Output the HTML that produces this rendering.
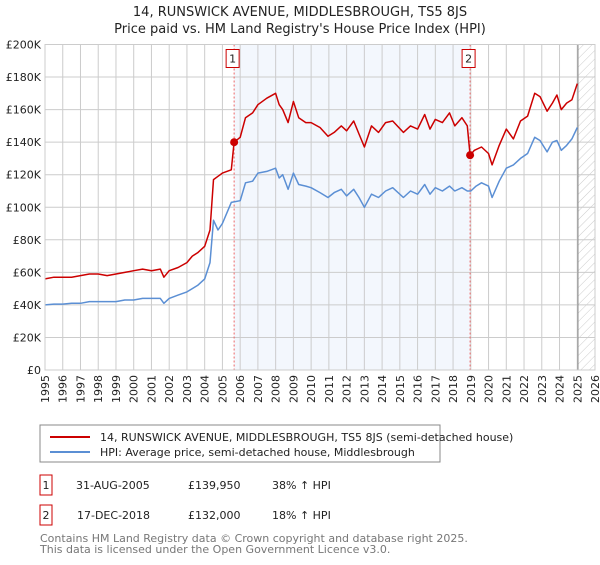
<!DOCTYPE html>
<html><head><meta charset="utf-8"><style>
body{margin:0;background:#fff;font-family:"Liberation Sans","DejaVu Sans",sans-serif;}
svg text{font-family:"DejaVu Sans","Liberation Sans",sans-serif;}
</style></head><body>
<svg id="c" width="600" height="560" xmlns="http://www.w3.org/2000/svg">
<defs><pattern id="hatch" width="6" height="6" patternUnits="userSpaceOnUse" patternTransform="rotate(45)"><line x1="0" y1="0" x2="0" y2="6" stroke="#ccc" stroke-width="1"/></pattern></defs>
<text x="300" y="16" text-anchor="middle" font-size="13" fill="#222">14, RUNSWICK AVENUE, MIDDLESBROUGH, TS5 8JS</text>
<text x="300" y="33" text-anchor="middle" font-size="13" fill="#222">Price paid vs. HM Land Registry's House Price Index (HPI)</text>
<g id="plot"></g>
<rect x="40" y="425" width="400" height="37" fill="#fff" stroke="#888"/>
<line x1="50" y1="437" x2="90" y2="437" stroke="#cc0000" stroke-width="2"/>
<text x="100" y="441" font-size="11" fill="#222">14, RUNSWICK AVENUE, MIDDLESBROUGH, TS5 8JS (semi-detached house)</text>
<line x1="50" y1="452" x2="90" y2="452" stroke="#5b8fd4" stroke-width="2"/>
<text x="100" y="456" font-size="11" fill="#222">HPI: Average price, semi-detached house, Middlesbrough</text>
<g>
<rect x="40" y="475" width="12" height="20" fill="#fff" stroke="#cc0000"/>
<text x="46" y="489" text-anchor="middle" font-size="11" fill="#222">1</text>
<text x="76" y="489" font-size="11" fill="#222">31-AUG-2005</text>
<text x="188" y="489" font-size="11" fill="#222">£139,950</text>
<text x="272" y="489" font-size="11" fill="#222">38% ↑ HPI</text></g>
<g>
<rect x="40" y="505" width="12" height="20" fill="#fff" stroke="#cc0000"/>
<text x="46" y="519" text-anchor="middle" font-size="11" fill="#222">2</text>
<text x="77" y="519" font-size="11" fill="#222">17-DEC-2018</text>
<text x="188" y="519" font-size="11" fill="#222">£132,000</text>
<text x="272" y="519" font-size="11" fill="#222">18% ↑ HPI</text></g>
<text x="40" y="542" font-size="11" fill="#777">Contains HM Land Registry data © Crown copyright and database right 2025.</text>
<text x="40" y="553" font-size="11" fill="#777">This data is licensed under the Open Government Licence v3.0.</text>
</svg>
<script>
const yearTicks=[1995,1996,1997,1998,1999,2000,2001,2002,2003,2004,2005,2006,2007,2008,2009,2010,2011,2012,2013,2014,2015,2016,2017,2018,2019,2020,2021,2022,2023,2024,2025,2026];
const priceTicks=[0,20000,40000,60000,80000,100000,120000,140000,160000,180000,200000];
const priceLabels=["£0","£20K","£40K","£60K","£80K","£100K","£120K","£140K","£160K","£180K","£200K"];
const redYears=[1995,1995.5,1996,1996.5,1997,1997.5,1998,1998.5,1999,1999.5,2000,2000.5,2001,2001.5,2001.7,2002,2002.5,2003,2003.3,2003.6,2004,2004.3,2004.5,2004.75,2005,2005.5,2005.66,2006,2006.3,2006.7,2007,2007.5,2008,2008.2,2008.4,2008.7,2009,2009.3,2009.7,2010,2010.5,2010.95,2011.3,2011.7,2012,2012.4,2012.7,2013,2013.4,2013.8,2014.2,2014.6,2015.2,2015.6,2016,2016.4,2016.7,2017,2017.4,2017.8,2018.1,2018.5,2018.8,2018.96,2019.2,2019.6,2020,2020.2,2020.6,2021,2021.4,2021.8,2022.2,2022.6,2022.9,2023.3,2023.6,2023.85,2024.1,2024.4,2024.7,2025];
const redValues=[56,57,57,57,58,59,59,58,59,60,61,62,61,62,57,61,63,66,70,72,76,86,117,119,121,123,139950/1000,143,155,158,163,167,170,163,160,152,165,155,152,152,149,143.6,146,150,147,153,145,137,150,146,152,153,146,150,148,157,148,154,152,158,150,155,150,132,135,137,133,126,138,148,142,153,156,170,168,159,164,169,160,164,166,176];
const blueYears=[1995,1995.5,1996,1996.5,1997,1997.5,1998,1998.5,1999,1999.5,2000,2000.5,2001,2001.5,2001.7,2002,2002.5,2003,2003.3,2003.6,2004,2004.3,2004.5,2004.75,2005,2005.5,2006,2006.3,2006.7,2007,2007.5,2008,2008.2,2008.4,2008.7,2009,2009.3,2009.7,2010,2010.5,2010.95,2011.3,2011.7,2012,2012.4,2012.7,2013,2013.4,2013.8,2014.2,2014.6,2015.2,2015.6,2016,2016.4,2016.7,2017,2017.4,2017.8,2018.1,2018.5,2018.8,2019,2019.3,2019.6,2020,2020.2,2020.6,2021,2021.4,2021.8,2022.2,2022.6,2022.9,2023.3,2023.6,2023.85,2024.1,2024.4,2024.7,2025];
const blueValues=[40,40.5,40.5,41,41,42,42,42,42,43,43,44,44,44,41,44,46,48,50,52,56,66,92,86,90,103,104,115,116,121,122,124,118,120,111,121,114,113,112,109,106,109,111,107,111,106,100,108,106,110,112,106,110,108,114,108,112,110,113,110,112,110,110,113,115,113,106,116,124,126,130,133,143,141,134,140,141,135,138,142,149];
const sales=[{n:"1",t:2005.66,v:139950},{n:"2",t:2018.96,v:132000}];
const L=45,R=595,T=44.5,B=370,ns="http://www.w3.org/2000/svg";
const X=y=>L+(y-1995)/(2026-1995)*(R-L);
const Y=v=>B-v/200000*(B-T);
const g=document.getElementById('plot');
function mk(tag,attrs,parent){const e=document.createElementNS(ns,tag);for(const k in attrs)e.setAttribute(k,attrs[k]);(parent||g).appendChild(e);return e;}
let e;
e=mk('rect',{x:X(sales[0].t),y:T,width:X(sales[1].t)-X(sales[0].t),height:B-T,fill:'#eef3fc',opacity:0.7});


e=mk('rect',{x:X(2025.04),y:T,width:R-X(2025.04),height:B-T,fill:'url(#hatch)'});


yearTicks.forEach((yr,i)=>{
 e=mk('line',{x1:X(yr),x2:X(yr),y1:T,y2:B,stroke:'#ccc','stroke-width':1});
 
 
 e=mk('text',{x:0,y:0,'font-size':11,fill:'#222','text-anchor':'end',transform:`translate(${X(yr)+4},${B+5}) rotate(-90)`});
 e.textContent=yr;
 
 
});
priceTicks.forEach((p,i)=>{
 e=mk('line',{x1:L,x2:R,y1:Y(p),y2:Y(p),stroke:'#ccc','stroke-width':1});
 
 
 e=mk('text',{x:L-4,y:Y(p)+4,'font-size':11,fill:'#222','text-anchor':'end'});
 e.textContent=priceLabels[i];
 
 
});
e=mk('line',{x1:X(2025.04),x2:X(2025.04),y1:T,y2:B,stroke:'#888','stroke-width':1});


sales.forEach(s=>{
 e=mk('line',{x1:X(s.t),x2:X(s.t),y1:T,y2:B,stroke:'#e66','stroke-width':1,'stroke-dasharray':'2,2'});
 
 
});
function path(xs,vs,scale){return xs.map((x,i)=>(i?'L':'M')+X(x).toFixed(1)+','+Y(vs[i]*scale).toFixed(1)).join('');}
e=mk('path',{d:path(blueYears,blueValues,1000),fill:'none',stroke:'#5b8fd4','stroke-width':1.5,'stroke-linejoin':'round'});


e=mk('path',{d:path(redYears,redValues,1000),fill:'none',stroke:'#cc0000','stroke-width':1.5,'stroke-linejoin':'round'});


sales.forEach(s=>{
 e=mk('circle',{cx:X(s.t),cy:Y(s.v),r:4,fill:'#cc0000'});
 
 
 e=mk('rect',{x:X(s.t)-8,y:T+5,width:13,height:18,fill:'#fff',stroke:'#cc0000'});
 
 
 e=mk('text',{x:X(s.t)-1.5,y:T+18,'font-size':11,fill:'#222','text-anchor':'middle'});
 e.textContent=s.n;
 
 
});
e=mk('rect',{x:L,y:T,width:R-L,height:B-T,fill:'none',stroke:'#ccc'});


</script>
</body></html>
